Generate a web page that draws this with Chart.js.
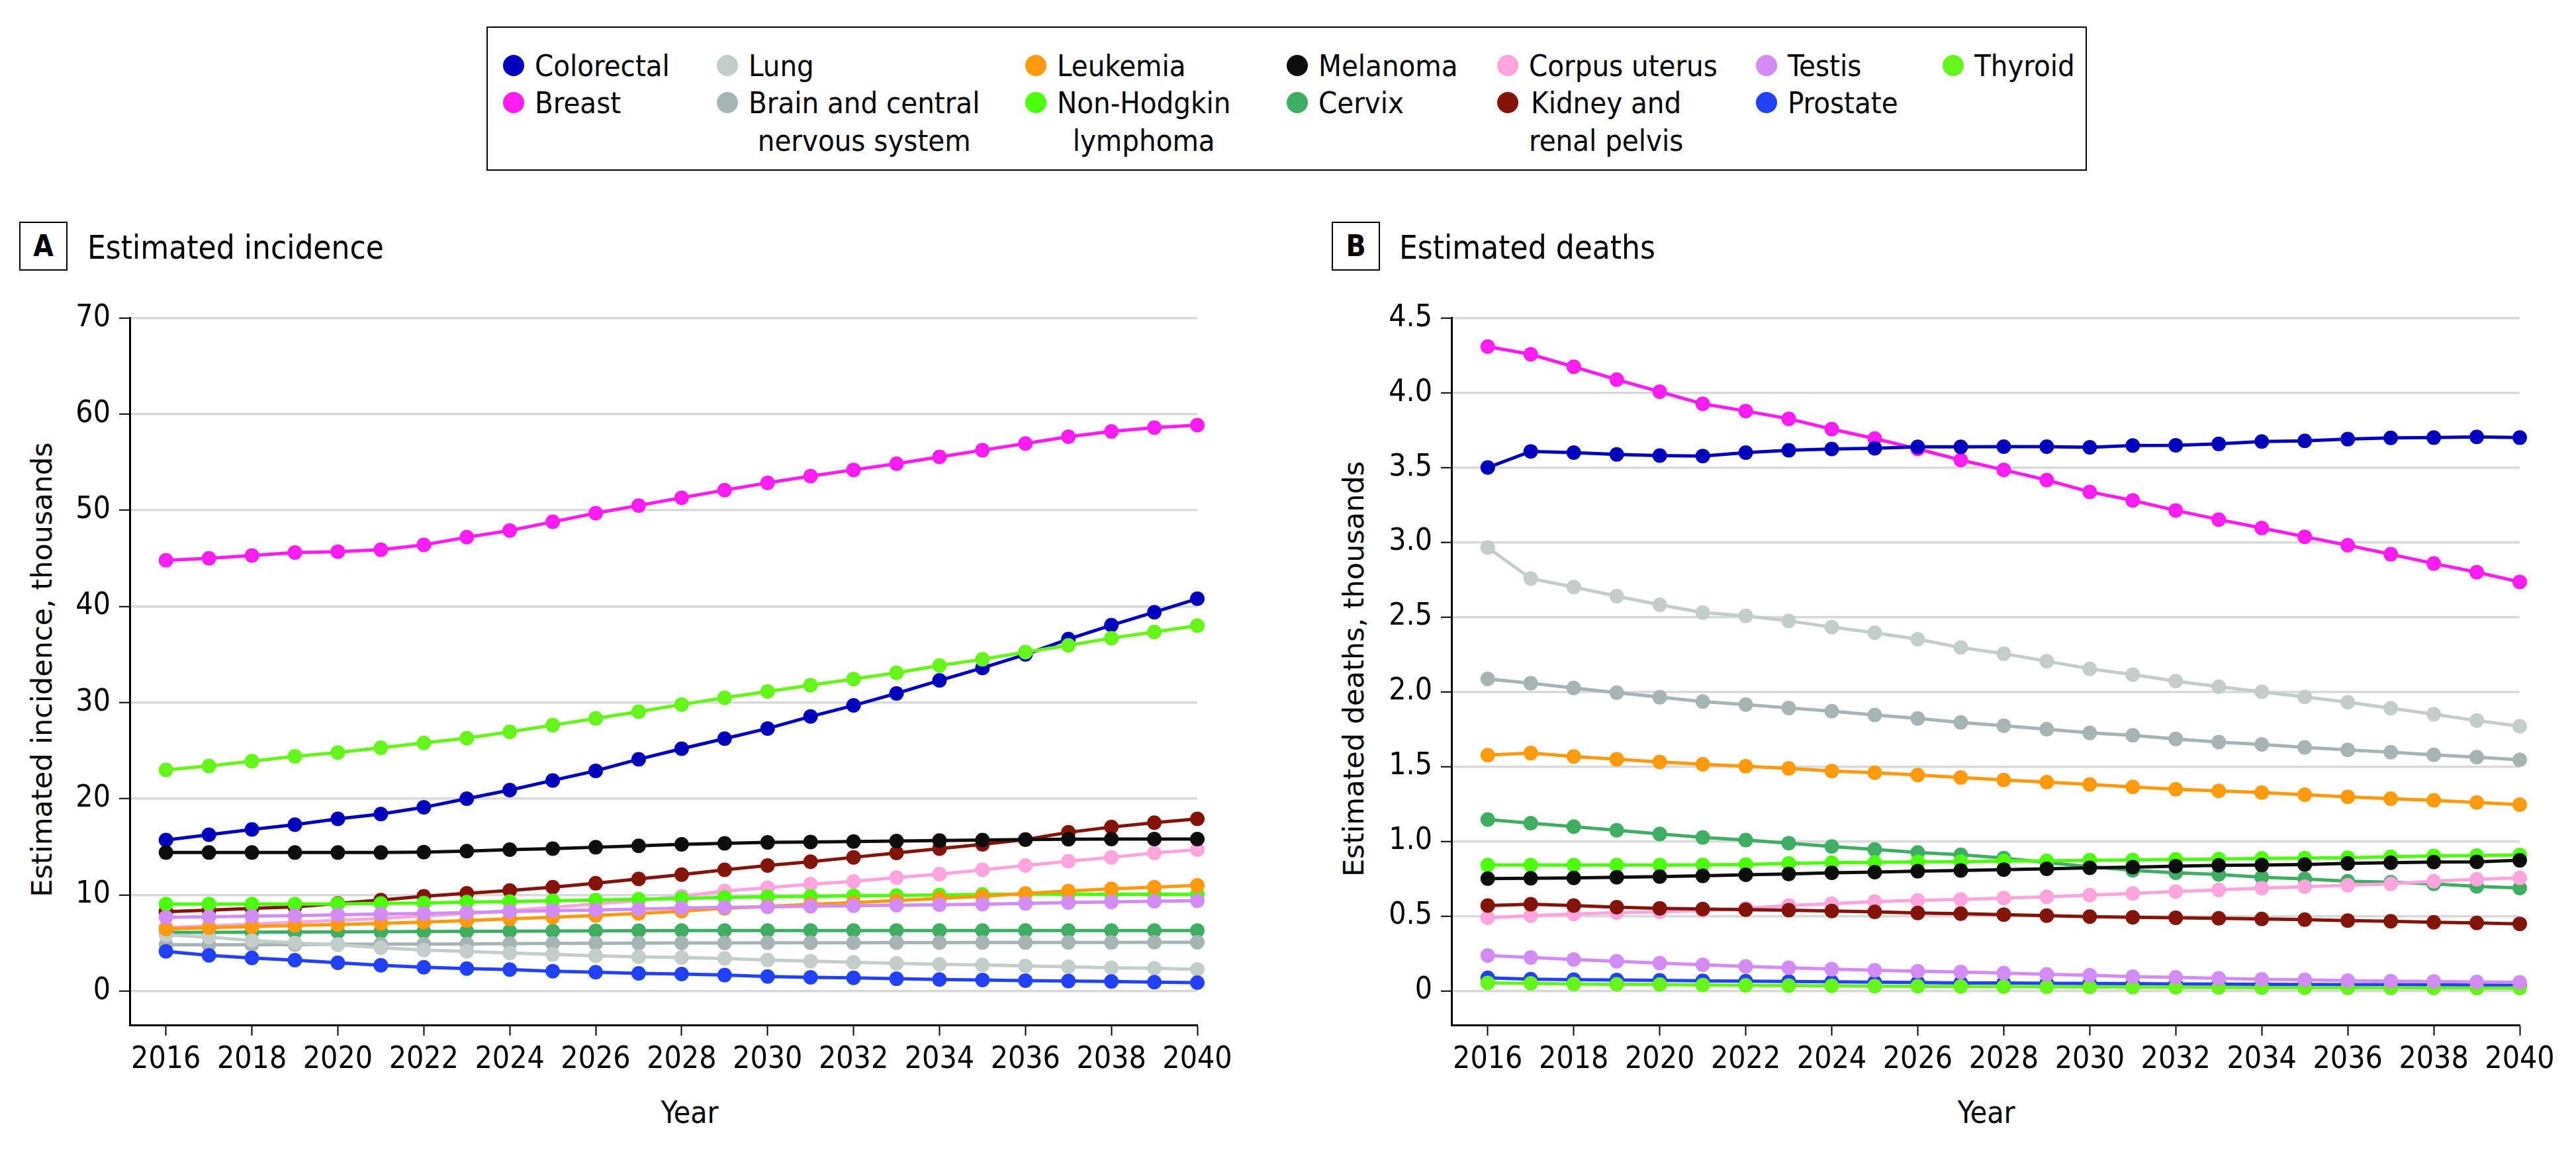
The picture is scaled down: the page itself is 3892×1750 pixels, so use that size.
<!DOCTYPE html>
<html>
<head>
<meta charset="utf-8">
<script src="https://cdn.jsdelivr.net/npm/chart.js@4.4.1/dist/chart.umd.min.js"></script>
<style>
  body { margin: 0; background: #fff; width: 3892px; height: 1750px; position: relative; overflow: hidden;
         font-family: 'DejaVu Sans Condensed', 'DejaVu Sans', sans-serif; color: #000; }
  #legend { position: absolute; left: 735px; top: 40px; width: 2418px; height: 218px; box-sizing: border-box; border: 2px solid #000; }
  .item { position: absolute; display: flex; align-items: flex-start; font-size: 45px; line-height: 57px; white-space: pre-line; }
  .item .dot { width: 32px; height: 32px; border-radius: 50%; margin-top: 12px; flex: none; }
  .item .txt { margin-left: 16px; text-align: center; }
  .tag { position: absolute; top: 335px; width: 73px; height: 74px; box-sizing: border-box; border: 2px solid #000;
         font-weight: bold; font-size: 44px; line-height: 70px; text-align: center; }
  .title { position: absolute; top: 350px; font-size: 49px; line-height: 49px; white-space: nowrap; }
  .ytitle { position: absolute; font-family: 'DejaVu Sans', sans-serif; font-size: 43px; line-height: 43px; white-space: nowrap;
            transform: translate(-50%, -50%) rotate(-90deg); }
  .xtitle { position: absolute; top: 1658px; font-size: 46px; line-height: 46px; transform: translateX(-50%); }
  canvas { position: absolute; top: 440px; }
</style>
</head>
<body>
<div id="legend"></div>

<div class="tag" style="left:29px">A</div>
<div class="title" style="left:132px">Estimated incidence</div>
<div class="tag" style="left:2012px">B</div>
<div class="title" style="left:2114px">Estimated deaths</div>

<div class="ytitle" style="left:63px; top:1012px">Estimated incidence, thousands</div>
<div class="ytitle" style="left:2045px; top:1011px">Estimated deaths, thousands</div>
<div class="xtitle" style="left:1042px">Year</div>
<div class="xtitle" style="left:3001px">Year</div>

<canvas id="chartA" width="1880" height="1310" style="left:0px"></canvas>
<canvas id="chartB" width="1880" height="1310" style="left:1997px"></canvas>

<script>
const years = [2016, 2017, 2018, 2019, 2020, 2021, 2022, 2023, 2024, 2025, 2026, 2027, 2028,
               2029, 2030, 2031, 2032, 2033, 2034, 2035, 2036, 2037, 2038, 2039, 2040];
const yearTicks = [2016, 2018, 2020, 2022, 2024, 2026, 2028, 2030, 2032, 2034, 2036, 2038, 2040];
const incidenceTicks = [0, 10, 20, 30, 40, 50, 60, 70];
const deathTicks = [0, 0.5, 1.0, 1.5, 2.0, 2.5, 3.0, 3.5, 4.0, 4.5];

// legend order (column by column)
const cancers = ['Colorectal', 'Breast', 'Lung', 'Brain and central\nnervous system', 'Leukemia',
                 'Non-Hodgkin\nlymphoma', 'Melanoma', 'Cervix', 'Corpus uterus', 'Kidney and\nrenal pelvis',
                 'Testis', 'Prostate', 'Thyroid'];
const colors = ['#0000bf', '#ff1cf2', '#c3cdc9', '#a7b4b4', '#ff9a0e', '#4cff0c', '#0d0d0d',
                '#3fae63', '#ffa5dd', '#84130a', '#d38cf3', '#2240ff', '#66f51a'];

// estimated incidence, thousands
const incColorectal = [15.7, 16.25, 16.8, 17.3, 17.9, 18.4, 19.1, 20.0, 20.9, 21.9, 22.9, 24.1, 25.2, 26.25, 27.3, 28.55, 29.7, 30.95, 32.3, 33.6, 35.0, 36.6, 38.05, 39.4, 40.8];
const incBreast = [44.8, 45.0, 45.3, 45.6, 45.7, 45.9, 46.4, 47.2, 47.9, 48.8, 49.7, 50.5, 51.3, 52.1, 52.85, 53.55, 54.2, 54.85, 55.55, 56.25, 56.95, 57.65, 58.2, 58.6, 58.85];
const incLung = [5.84, 5.6, 5.26, 5.0, 4.8, 4.5, 4.25, 4.12, 3.95, 3.8, 3.66, 3.55, 3.48, 3.38, 3.22, 3.1, 2.98, 2.87, 2.77, 2.7, 2.6, 2.52, 2.42, 2.36, 2.25];
const incBrain = [4.8, 4.8, 4.81, 4.83, 4.85, 4.87, 4.88, 4.9, 4.92, 4.94, 4.96, 4.97, 4.99, 5.0, 5.01, 5.02, 5.02, 5.03, 5.03, 5.04, 5.04, 5.05, 5.05, 5.06, 5.07];
const incLeukemia = [6.45, 6.58, 6.7, 6.82, 6.91, 7.03, 7.16, 7.32, 7.5, 7.67, 7.85, 8.06, 8.3, 8.6, 8.8, 9.0, 9.2, 9.4, 9.62, 9.85, 10.14, 10.4, 10.62, 10.8, 10.98];
const incNhl = [9.04, 9.04, 9.04, 9.04, 9.05, 9.1, 9.15, 9.25, 9.3, 9.38, 9.45, 9.54, 9.62, 9.72, 9.79, 9.84, 9.9, 9.94, 9.98, 10.04, 10.08, 10.07, 10.06, 10.06, 10.03];
const incMelanoma = [14.4, 14.4, 14.4, 14.4, 14.4, 14.4, 14.45, 14.55, 14.7, 14.8, 14.95, 15.1, 15.25, 15.35, 15.45, 15.5, 15.55, 15.6, 15.65, 15.7, 15.75, 15.78, 15.8, 15.8, 15.8];
const incCervix = [6.1, 6.1, 6.12, 6.13, 6.15, 6.16, 6.18, 6.2, 6.22, 6.24, 6.25, 6.27, 6.29, 6.29, 6.29, 6.29, 6.29, 6.29, 6.29, 6.29, 6.29, 6.29, 6.29, 6.29, 6.29];
const incCorpus = [6.6, 6.75, 6.95, 7.15, 7.35, 7.55, 7.8, 8.05, 8.35, 8.7, 9.05, 9.4, 9.85, 10.4, 10.75, 11.1, 11.4, 11.8, 12.15, 12.6, 13.05, 13.5, 13.9, 14.35, 14.7];
const incKidney = [8.25, 8.4, 8.6, 8.75, 9.1, 9.45, 9.85, 10.15, 10.45, 10.8, 11.2, 11.65, 12.1, 12.6, 13.05, 13.45, 13.9, 14.35, 14.8, 15.25, 15.75, 16.5, 17.05, 17.5, 17.9];
const incTestis = [7.67, 7.71, 7.78, 7.83, 7.92, 8.0, 8.05, 8.15, 8.27, 8.35, 8.42, 8.51, 8.63, 8.7, 8.74, 8.81, 8.87, 8.92, 8.97, 9.03, 9.1, 9.2, 9.27, 9.33, 9.38];
const incProstate = [4.12, 3.7, 3.43, 3.2, 2.93, 2.68, 2.47, 2.33, 2.22, 2.06, 1.95, 1.83, 1.76, 1.65, 1.5, 1.42, 1.37, 1.27, 1.19, 1.14, 1.08, 1.03, 0.98, 0.92, 0.87];
const incThyroid = [23.0, 23.4, 23.9, 24.4, 24.8, 25.3, 25.8, 26.3, 26.95, 27.65, 28.35, 29.05, 29.8, 30.5, 31.15, 31.8, 32.45, 33.1, 33.85, 34.5, 35.25, 35.95, 36.7, 37.35, 38.0];

// estimated deaths, thousands
const dthColorectal = [3.50, 3.608, 3.60, 3.588, 3.58, 3.577, 3.60, 3.615, 3.624, 3.629, 3.638, 3.638, 3.64, 3.64, 3.635, 3.647, 3.649, 3.658, 3.674, 3.678, 3.69, 3.698, 3.70, 3.705, 3.70];
const dthBreast = [4.309, 4.257, 4.174, 4.088, 4.007, 3.926, 3.878, 3.826, 3.757, 3.694, 3.624, 3.55, 3.484, 3.416, 3.337, 3.28, 3.213, 3.152, 3.095, 3.037, 2.98, 2.92, 2.858, 2.80, 2.735];
const dthLung = [2.965, 2.758, 2.70, 2.64, 2.582, 2.53, 2.508, 2.474, 2.433, 2.395, 2.352, 2.296, 2.255, 2.205, 2.154, 2.115, 2.072, 2.034, 2.0, 1.966, 1.93, 1.89, 1.85, 1.808, 1.77];
const dthBrain = [2.086, 2.057, 2.025, 1.994, 1.964, 1.935, 1.915, 1.892, 1.87, 1.845, 1.822, 1.795, 1.773, 1.75, 1.725, 1.709, 1.685, 1.664, 1.648, 1.628, 1.612, 1.596, 1.578, 1.563, 1.545];
const dthLeukemia = [1.576, 1.59, 1.567, 1.549, 1.531, 1.515, 1.502, 1.488, 1.47, 1.459, 1.443, 1.427, 1.41, 1.396, 1.38, 1.364, 1.348, 1.337, 1.326, 1.312, 1.297, 1.285, 1.274, 1.26, 1.245];
const dthNhl = [0.841, 0.841, 0.841, 0.841, 0.841, 0.842, 0.845, 0.852, 0.857, 0.859, 0.863, 0.864, 0.868, 0.869, 0.873, 0.875, 0.879, 0.881, 0.886, 0.888, 0.89, 0.897, 0.902, 0.904, 0.909];
const dthMelanoma = [0.751, 0.753, 0.755, 0.76, 0.764, 0.769, 0.776, 0.782, 0.789, 0.794, 0.8, 0.805, 0.811, 0.816, 0.823, 0.827, 0.834, 0.839, 0.841, 0.845, 0.852, 0.857, 0.861, 0.863, 0.873];
const dthCervix = [1.146, 1.121, 1.098, 1.074, 1.049, 1.026, 1.008, 0.988, 0.965, 0.945, 0.925, 0.91, 0.888, 0.858, 0.83, 0.806, 0.789, 0.778, 0.76, 0.749, 0.733, 0.726, 0.715, 0.699, 0.688];
const dthCorpus = [0.489, 0.503, 0.514, 0.523, 0.528, 0.537, 0.552, 0.57, 0.583, 0.597, 0.605, 0.611, 0.62, 0.629, 0.64, 0.651, 0.664, 0.675, 0.687, 0.697, 0.706, 0.715, 0.733, 0.746, 0.755];
const dthKidney = [0.57, 0.579, 0.57, 0.559, 0.552, 0.547, 0.543, 0.539, 0.534, 0.528, 0.521, 0.516, 0.51, 0.503, 0.496, 0.492, 0.489, 0.485, 0.481, 0.476, 0.47, 0.465, 0.459, 0.454, 0.448];
const dthTestis = [0.236, 0.223, 0.21, 0.198, 0.185, 0.174, 0.163, 0.154, 0.145, 0.138, 0.131, 0.126, 0.119, 0.11, 0.104, 0.095, 0.09, 0.083, 0.077, 0.074, 0.068, 0.065, 0.063, 0.059, 0.057];
const dthProstate = [0.087, 0.078, 0.075, 0.072, 0.07, 0.067, 0.065, 0.063, 0.06, 0.058, 0.056, 0.053, 0.052, 0.05, 0.049, 0.048, 0.046, 0.045, 0.044, 0.043, 0.042, 0.041, 0.04, 0.039, 0.038];
const dthThyroid = [0.053, 0.05, 0.046, 0.044, 0.043, 0.039, 0.037, 0.035, 0.034, 0.032, 0.03, 0.029, 0.028, 0.027, 0.026, 0.025, 0.024, 0.023, 0.022, 0.021, 0.02, 0.019, 0.019, 0.018, 0.018];

const incidence = [incColorectal, incBreast, incLung, incBrain, incLeukemia, incNhl, incMelanoma,
                   incCervix, incCorpus, incKidney, incTestis, incProstate, incThyroid];
const deaths = [dthColorectal, dthBreast, dthLung, dthBrain, dthLeukemia, dthNhl, dthMelanoma,
                dthCervix, dthCorpus, dthKidney, dthTestis, dthProstate, dthThyroid];

// which line sits on top of which (index into cancers, bottom first)
const stacking = [1, 0, 7, 3, 2, 8, 9, 5, 4, 6, 11, 12, 10];

// html legend, 2 rows per column
const legendCols = [776, 1099, 1565, 1960, 2278, 2669, 2951];
const legendRows = [99, 155];
const legend = document.getElementById('legend');
cancers.forEach((name, i) => {
    const col = Math.floor(i / 2), row = i % 2;
    const el = document.createElement('div');
    el.className = 'item';
    el.style.left = (legendCols[col] - 16 - 735 - 2) + 'px';
    el.style.top = (legendRows[row] - 28 - 40 - 2) + 'px';
    el.innerHTML = '<span class="dot" style="background:' + colors[i] + '"></span><span class="txt"></span>';
    el.querySelector('.txt').textContent = name;
    legend.appendChild(el);
});

const tickFont = { family: "'DejaVu Sans Condensed', 'DejaVu Sans', sans-serif", size: 46 };

function makeDatasets(series) {
    return series.map((vals, i) => ({
        label: cancers[i].replace('\n', ' '),
        data: years.map((yr, k) => ({ x: yr, y: vals[k] })),
        borderColor: colors[i],
        backgroundColor: colors[i],
        borderWidth: 5,
        pointRadius: 11,
        pointBorderWidth: 0,
        pointHoverRadius: 11,
        clip: false,
        order: cancers.length - stacking.indexOf(i)
    }));
}

function makeChart(id, series, yMin, yMax, yTicks, fmt, padRight) {
    return new Chart(document.getElementById(id), {
        type: 'line',
        data: { datasets: makeDatasets(series) },
        options: {
            responsive: false,
            animation: false,
            events: [],
            layout: { padding: { left: 0, top: 37, right: padRight, bottom: 51 } },
            plugins: { legend: { display: false }, tooltip: { enabled: false } },
            scales: {
                x: {
                    type: 'linear',
                    min: 2015.157,
                    max: 2040,
                    afterBuildTicks: axis => { axis.ticks = yearTicks.map(v => ({ value: v })); },
                    afterFit: axis => { axis.height = 150; },
                    ticks: { font: tickFont, color: '#000', padding: 9, maxRotation: 0, autoSkip: false,
                             callback: v => String(v) },
                    grid: { drawOnChartArea: false, drawTicks: true, tickLength: 16, tickWidth: 2, tickColor: '#000' },
                    border: { display: true, color: '#000', width: 3 }
                },
                y: {
                    min: yMin,
                    max: yMax,
                    afterBuildTicks: axis => { axis.ticks = yTicks.map(v => ({ value: v })); },
                    afterFit: axis => { axis.width = 196; },
                    ticks: { font: tickFont, color: '#000', padding: 13, callback: fmt },
                    grid: { color: '#d9d9d9', lineWidth: 3.5, drawTicks: true, tickLength: 16, tickWidth: 2, tickColor: '#000' },
                    border: { display: true, color: '#000', width: 3 }
                }
            }
        }
    });
}

makeChart('chartA', incidence, -3.54, 70, incidenceTicks, v => String(v), 71);
makeChart('chartB', deaths, -0.2285, 4.5, deathTicks, v => v === 0 ? '0' : v.toFixed(1), 70);
</script>
</body>
</html>
